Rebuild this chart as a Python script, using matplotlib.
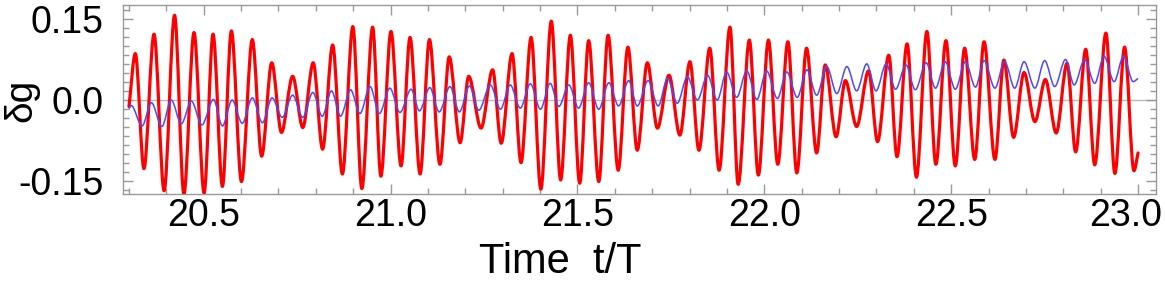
import numpy as np
import matplotlib
matplotlib.use("Agg")
import matplotlib.pyplot as plt
import matplotlib.transforms as mtransforms
from matplotlib.path import Path
from matplotlib.patches import PathPatch
from matplotlib.ticker import MultipleLocator, FixedLocator

# extrema of the red curve (time, value)
red_t = [20.300, 20.317, 20.340, 20.367, 20.394, 20.422, 20.447, 20.474, 20.501, 20.525,
         20.550, 20.574, 20.601, 20.630, 20.655, 20.682, 20.708, 20.738, 20.765, 20.793,
         20.818, 20.845, 20.871, 20.899, 20.923, 20.952, 20.974, 21.001, 21.028, 21.052,
         21.079, 21.104, 21.132, 21.157, 21.186, 21.209, 21.242, 21.273, 21.296, 21.325,
         21.349, 21.376, 21.402, 21.430, 21.455, 21.481, 21.506, 21.530, 21.557, 21.582,
         21.609, 21.635, 21.660, 21.687, 21.714, 21.745, 21.774, 21.801, 21.825, 21.854,
         21.879, 21.908, 21.930, 21.960, 21.984, 22.011, 22.036, 22.063, 22.087, 22.113,
         22.140, 22.163, 22.192, 22.217, 22.247, 22.279, 22.303, 22.333, 22.355, 22.382,
         22.407, 22.435, 22.459, 22.486, 22.511, 22.536, 22.563, 22.588, 22.617, 22.641,
         22.667, 22.695, 22.724, 22.752, 22.781, 22.810, 22.833, 22.860, 22.884, 22.914,
         22.938, 22.964, 22.989, 23.000]
red_v = [-0.012, 0.086, -0.127, 0.122, -0.168, 0.157, -0.174, 0.125, -0.172, 0.122,
         -0.160, 0.128, -0.151, 0.112, -0.104, 0.069, -0.060, 0.044, -0.051, 0.069,
         -0.091, 0.102, -0.137, 0.136, -0.164, 0.135, -0.141, 0.127, -0.122, 0.116,
         -0.137, 0.112, -0.119, 0.080, -0.079, 0.044, -0.052, 0.056, -0.080, 0.086,
         -0.116, 0.116, -0.165, 0.146, -0.148, 0.120, -0.154, 0.110, -0.151, 0.120,
         -0.130, 0.098, -0.093, 0.069, -0.052, 0.046, -0.065, 0.071, -0.093, 0.096,
         -0.130, 0.135, -0.156, 0.111, -0.139, 0.111, -0.119, 0.108, -0.135, 0.096,
         -0.098, 0.065, -0.068, 0.036, -0.049, 0.054, -0.077, 0.083, -0.105, 0.104,
         -0.143, 0.127, -0.119, 0.110, -0.122, 0.096, -0.110, 0.108, -0.110, 0.074,
         -0.069, 0.051, -0.040, 0.038, -0.061, 0.068, -0.096, 0.094, -0.120, 0.124,
         -0.136, 0.098, -0.131, -0.098]

# extrema of the blue curve
blue_t = [20.300, 20.306, 20.335, 20.360, 20.388, 20.413, 20.440, 20.467, 20.495, 20.526,
          20.550, 20.576, 20.603, 20.630, 20.657, 20.683, 20.710, 20.738, 20.765, 20.792,
          20.817, 20.842, 20.866, 20.893, 20.918, 20.945, 20.970, 20.998, 21.025, 21.055,
          21.077, 21.105, 21.130, 21.159, 21.184, 21.211, 21.236, 21.267, 21.294, 21.320,
          21.347, 21.374, 21.401, 21.427, 21.450, 21.477, 21.503, 21.530, 21.557, 21.584,
          21.610, 21.637, 21.660, 21.689, 21.716, 21.741, 21.767, 21.794, 21.821, 21.848,
          21.874, 21.899, 21.926, 21.953, 21.980, 22.006, 22.035, 22.060, 22.088, 22.114,
          22.140, 22.167, 22.194, 22.221, 22.247, 22.274, 22.299, 22.326, 22.351, 22.379,
          22.404, 22.433, 22.458, 22.484, 22.511, 22.538, 22.565, 22.588, 22.617, 22.643,
          22.670, 22.695, 22.724, 22.750, 22.777, 22.806, 22.829, 22.857, 22.884, 22.909,
          22.936, 22.961, 22.987, 23.000]
blue_v = [-0.016, -0.010, -0.048, -0.005, -0.049, 0.000, -0.044, -0.002, -0.046, 0.001,
          -0.048, 0.000, -0.043, 0.004, -0.042, 0.004, -0.032, 0.009, -0.032, 0.014,
          -0.030, 0.017, -0.030, 0.019, -0.025, 0.025, -0.025, 0.022, -0.023, 0.020,
          -0.020, 0.023, -0.022, 0.025, -0.022, 0.026, -0.019, 0.028, -0.017, 0.028,
          -0.015, 0.030, -0.017, 0.031, -0.012, 0.028, -0.015, 0.032, -0.017, 0.032,
          -0.011, 0.036, -0.011, 0.036, -0.011, 0.040, -0.006, 0.043, 0.000, 0.046,
          0.000, 0.052, 0.005, 0.054, 0.001, 0.054, 0.003, 0.052, 0.005, 0.056,
          0.009, 0.062, 0.012, 0.062, 0.017, 0.067, 0.017, 0.067, 0.020, 0.065,
          0.019, 0.069, 0.022, 0.071, 0.020, 0.071, 0.024, 0.073, 0.022, 0.071,
          0.022, 0.071, 0.022, 0.073, 0.025, 0.075, 0.028, 0.075, 0.031, 0.081,
          0.034, 0.081, 0.034, 0.040]

x_major = [20.5, 21.0, 21.5, 22.0, 22.5, 23.0]
y_major = [-0.15, 0.0, 0.15]
y_labels = ["-0.15", "0.0", "0.15"]


def smooth_path(ts, vs):
    # cubic segments with flat tangents at each extremum
    verts = [(ts[0], vs[0])]
    codes = [Path.MOVETO]
    n = len(ts)
    for i in range(n - 1):
        t0, v0, t1, v1 = ts[i], vs[i], ts[i + 1], vs[i + 1]
        dt = t1 - t0
        s0 = 0.0 if i > 0 else (v1 - v0) / dt
        s1 = 0.0 if i + 1 < n - 1 else (v1 - v0) / dt
        verts += [(t0 + dt / 3, v0 + s0 * dt / 3),
                  (t1 - dt / 3, v1 - s1 * dt / 3),
                  (t1, v1)]
        codes += [Path.CURVE4] * 3
    return Path(verts, codes)


plt.rcParams['font.family'] = ['Liberation Sans', 'DejaVu Sans']

fig = plt.figure(figsize=(11.65, 2.83), dpi=100)
ax = fig.add_axes([123 / 1165, 1 - 194 / 283, (1156 - 123) / 1165, (194 - 5) / 283])

ax.axhline(0, color='#bbbbbb', lw=1.0, zorder=1)
ax.add_patch(PathPatch(smooth_path(red_t, red_v), fc='none', ec='#ff0000',
                       lw=2.3, zorder=3, capstyle='round', joinstyle='round'))
ax.add_patch(PathPatch(smooth_path(blue_t, blue_v), fc='none', ec='#4a4aff',
                       lw=1.1, zorder=4))

ax.set_xlim(20.284, 23.048)
ax.set_ylim(-0.174, 0.176)

ax.xaxis.set_major_locator(FixedLocator(x_major))
ax.xaxis.set_minor_locator(MultipleLocator(0.1))
ax.set_xticklabels([f"{v:.1f}" for v in x_major])
ax.yaxis.set_major_locator(FixedLocator(y_major))
ax.set_yticklabels(y_labels)
ax.yaxis.set_minor_locator(MultipleLocator(0.05 / 3))

ax.tick_params(which='both', direction='in', top=True, right=True,
               color='#999999', labelsize=27, width=1.0)
ax.tick_params(which='major', length=7)
ax.tick_params(which='minor', length=4)
ax.tick_params(axis='x', pad=3)
ax.tick_params(axis='y', pad=14)
for s in ax.spines.values():
    s.set_color('#999999')
    s.set_linewidth(1.0)

# last x label sits a bit left so it stays inside the picture
last = ax.xaxis.get_major_ticks()[-1].label1
last.set_transform(last.get_transform() +
                   mtransforms.ScaledTranslation(-0.12, 0, fig.dpi_scale_trans))

fig.text(560 / 1165, 1 - 262 / 283, "Time  t/T", fontsize=30,
         ha='center', va='center')
fig.text(21 / 1165, 1 - 100 / 283, "δg", fontsize=28, rotation=90,
         ha='center', va='center')

fig.savefig("out.png", dpi=100)
